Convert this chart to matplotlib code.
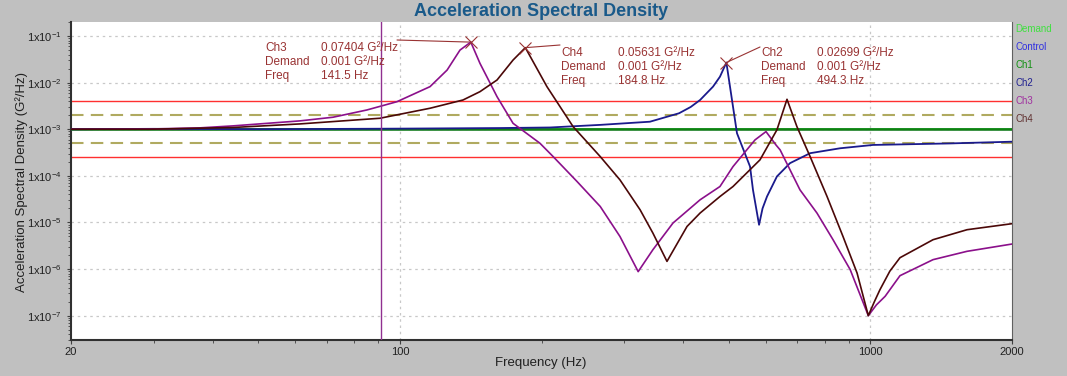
import math
import matplotlib
matplotlib.use("Agg")
import matplotlib.pyplot as plt
from matplotlib.ticker import FixedLocator, NullFormatter, FuncFormatter

plt.rcParams['font.family'] = ['Liberation Sans', 'DejaVu Sans']
plt.rcParams['mathtext.default'] = 'regular'
plt.rcParams['axes.unicode_minus'] = False

# reference levels (G^2/Hz)
demand_level = 1e-3
tol_3db = [2.0e-3, 5.0e-4]
tol_6db = [4.0e-3, 2.5e-4]
cursor_freq = 91.3

# channel spectra
ch1_f = [20, 50, 100, 200, 500, 1000, 2000]
ch1_v = [1.0e-3, 1.0e-3, 1.0e-3, 1.0e-3, 1.0e-3, 1.0e-3, 1.0e-3]

ch2_f = [20, 30, 50, 100, 163, 208.6, 266.6, 340, 392, 415, 434.6, 463, 479, 494.3,
         520.6, 555, 563, 580, 590, 603, 633, 674.8, 744.6, 862, 1013, 1477, 2000]
ch2_v = [1.0e-3, 1.02e-3, 1.0e-3, 1.03e-3, 1.06e-3, 1.09e-3, 1.24e-3, 1.45e-3, 2.2e-3,
         3.0e-3, 4.24e-3, 8.2e-3, 1.34e-2, 2.699e-2, 8.2e-4, 1.58e-4, 5.0e-5, 8.9e-6,
         2.0e-5, 3.6e-5, 9.7e-5, 1.87e-4, 3.06e-4, 3.9e-4, 4.6e-4, 4.96e-4, 5.4e-4]

ch3_f = [20, 29.4, 37.6, 44.2, 61.3, 72.1, 85.1, 98.6, 115.9, 126, 134.2, 141.5,
         148, 160.9, 174, 198.5, 211.7, 238, 266.6, 293.6, 321, 345, 380.6, 434.6,
         479, 510.6, 568.6, 600, 630, 643, 708.6, 770, 833, 906, 990, 1030, 1075, 1156,
         1359, 1605, 2000]
ch3_v = [1.0e-3, 1.01e-3, 1.07e-3, 1.18e-3, 1.51e-3, 1.81e-3, 2.59e-3, 3.9e-3,
         8.2e-3, 1.86e-2, 4.99e-2, 7.404e-2, 2.59e-2, 4.99e-3, 1.34e-3, 5.0e-4,
         2.59e-4, 7.55e-5, 2.2e-5, 5.0e-6, 8.8e-7, 2.6e-6, 9.7e-6, 3.06e-5, 5.9e-5,
         1.58e-4, 5.9e-4, 8.9e-4, 4.6e-4, 3.6e-4, 5.0e-5, 1.59e-5, 4.26e-6, 9.7e-7,
         1.0e-7, 1.7e-7, 2.6e-7, 7.2e-7, 1.59e-6, 2.4e-6, 3.44e-6]

ch4_f = [20, 29.4, 44.2, 61.3, 90.7, 115.9, 136.2, 148, 160.9, 174, 184.8, 205.4,
         233.4, 266.6, 293.6, 324, 345, 369.6, 407.7, 434.6, 479, 510.6, 582.6,
         633, 665, 698, 744.6, 809, 874.6, 937, 990, 1020, 1048, 1100, 1156, 1359,
         1605, 2000]
ch4_v = [1.0e-3, 1.0e-3, 1.09e-3, 1.3e-3, 1.72e-3, 2.82e-3, 4.24e-3, 6.4e-3,
         1.14e-2, 3.05e-2, 5.631e-2, 8.2e-3, 1.14e-3, 2.59e-4, 8.2e-5, 1.87e-5,
         5.9e-6, 1.46e-6, 8.2e-6, 1.59e-5, 3.6e-5, 5.9e-5, 2.2e-4, 9.7e-4, 4.39e-3,
         1.14e-3, 2.59e-4, 3.6e-5, 5.0e-6, 8.2e-7, 1.0e-7, 2.0e-7, 3.6e-7, 9.0e-7,
         1.75e-6, 4.26e-6, 6.98e-6, 9.4e-6]

# peak cursors: (channel, psd, freq)
peaks = [("Ch3", 0.07404, 141.5), ("Ch4", 0.05631, 184.8), ("Ch2", 0.02699, 494.3)]

y_major = [1e-7, 1e-6, 1e-5, 1e-4, 1e-3, 1e-2, 1e-1]
x_major = [20, 100, 1000, 2000]
x_minor = [30, 40, 50, 60, 70, 80, 90, 200, 300, 400, 500, 600, 700, 800, 900]

legend_names = ["Demand", "Control", "Ch1", "Ch2", "Ch3", "Ch4"]
legend_colors = ["#40e040", "#3030e0", "#109010", "#202090", "#a030a0", "#603030"]

W, H = 1067, 376
fig = plt.figure(figsize=(W / 100, H / 100), dpi=100, facecolor="#c0c0c0")
ax = fig.add_axes([71 / W, 1 - 340 / H, 941 / W, 318 / H])
ax.set_facecolor("white")

ax.set_xscale("log")
ax.set_yscale("log")
ax.set_xlim(20, 2000)
ax.set_ylim(3.0e-8, 0.2)

# tolerance lines
for v in tol_6db:
    ax.axhline(v, color="#ff3030", lw=1.0, zorder=2)
for v in tol_3db:
    ax.axhline(v, color="#b0aa60", lw=1.5, ls=(0, (6, 3.5)), zorder=2)

ax.plot([20, 2000], [demand_level, demand_level], color="#40e040", lw=1.4, zorder=3)
ax.plot([20, 2000], [demand_level, demand_level], color="#3030e0", lw=1.0, zorder=3)
ax.plot(ch1_f, ch1_v, color="#108010", lw=1.8, zorder=4)
ax.plot(ch2_f, ch2_v, color="#1a1a8c", lw=1.3, zorder=5)
ax.plot(ch3_f, ch3_v, color="#8b108b", lw=1.2, zorder=6)
ax.plot(ch4_f, ch4_v, color="#4b0808", lw=1.2, zorder=6)

ax.axvline(cursor_freq, color="#903090", lw=1.0, zorder=7)

# peak markers + readouts
ann_col = "#993333"
text_pos = {"Ch3": (265, 321, 48, 397, 40),
            "Ch4": (561, 618, 53, 560, 45),
            "Ch2": (761, 817, 53, 760, 47)}
for name, psd, freq in peaks:
    ax.plot([freq], [psd], marker="x", ms=9, mew=0.8, color=ann_col, zorder=8)
    lx, vx, ty, ex, ey = text_pos[name]
    ax.annotate("", xy=(freq, psd), xytext=(ex / W, 1 - ey / H),
                textcoords="figure fraction",
                arrowprops=dict(arrowstyle="-", color=ann_col, lw=0.8,
                                shrinkA=0, shrinkB=0))
    rows = [(name, f"{psd:.5g} G²/Hz"), ("Demand", "0.001 G²/Hz"), ("Freq", f"{freq} Hz")]
    for i, (a, b) in enumerate(rows):
        y = 1 - (ty + 14 * i) / H
        fig.text(lx / W, y, a, color=ann_col, fontsize=8.5, va="center")
        fig.text(vx / W, y, b, color=ann_col, fontsize=8.5, va="center")

# grid and ticks
ax.yaxis.set_major_locator(FixedLocator(y_major))
ax.yaxis.set_minor_locator(FixedLocator([m * d for d in [1e-8] + y_major[:-1] + [1e-1]
                                         for m in range(2, 10)
                                         if 3.0e-8 <= m * d <= 0.2]))
ax.yaxis.set_minor_formatter(NullFormatter())
ax.yaxis.set_major_formatter(FuncFormatter(lambda v, p: r"1x10$^{%d}$" % round(math.log10(v))))
ax.xaxis.set_major_locator(FixedLocator(x_major))
ax.xaxis.set_minor_locator(FixedLocator(x_minor))
ax.xaxis.set_major_formatter(FuncFormatter(lambda v, p: f"{int(v)}"))
ax.xaxis.set_minor_formatter(NullFormatter())
for v in y_major:
    ax.axhline(v, color="#c8c8c8", lw=0.9, ls=(0, (2, 3)), zorder=1)
for v in [100, 1000]:
    ax.axvline(v, color="#c8c8c8", lw=0.9, ls=(0, (2, 3)), zorder=1)
ax.tick_params(axis="both", which="major", labelsize=8, length=3, color="#404040",
               labelcolor="#202020")
ax.tick_params(axis="x", which="major", pad=2)
ax.tick_params(axis="both", which="minor", length=2, color="#404040")

for s in ["left", "bottom"]:
    ax.spines[s].set_color("#303030")
    ax.spines[s].set_linewidth(1.5)
ax.spines["right"].set_color("#606060")
ax.spines["top"].set_visible(False)

fig.text(541 / W, 1 - 363 / H, "Frequency (Hz)", ha="center", va="center",
         fontsize=9.5, color="#202020")
fig.text(22 / W, 1 - 182 / H, "Acceleration Spectral Density (G²/Hz)", ha="center",
         va="center", rotation=90, fontsize=9.5, color="#202020")
fig.text(541 / W, 1 - 11 / H, "Acceleration Spectral Density", ha="center", va="center",
         fontsize=13, fontweight="bold", color="#1a5a8a")

for i, (name, col) in enumerate(zip(legend_names, legend_colors)):
    fig.text(1015 / W, 1 - (29 + 18 * i) / H, name, color=col, fontsize=7, va="center")

fig.savefig("out.png", dpi=100, facecolor=fig.get_facecolor())
